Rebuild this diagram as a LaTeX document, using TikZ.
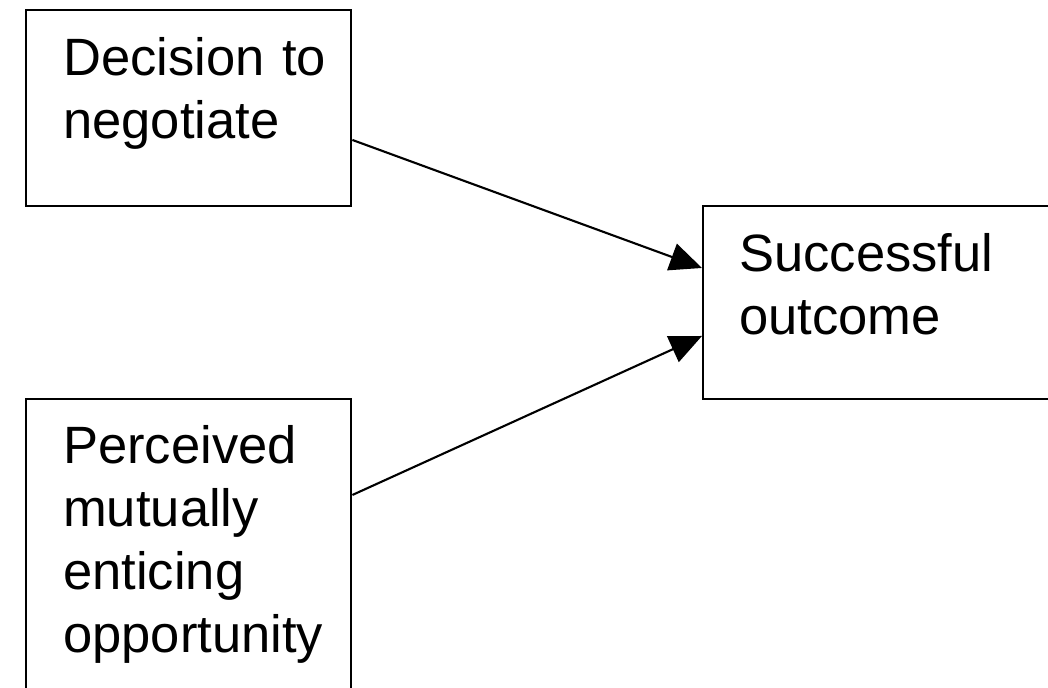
\documentclass[tikz,border=0pt]{standalone}
\usepackage{fontspec}
\setmainfont{Liberation Sans}
\usetikzlibrary{arrows.meta}

\tikzset{
  stage/.style={draw, line width=1.4pt, anchor=north west, inner xsep=0.74cm, inner ysep=0pt,
    align=left, text height=1.3cm, font=\fontsize{29.9}{35.9}\selectfont},
  link/.style={line width=1.2pt, -{Triangle[length=0.64cm,width=0.56cm]}}
}

\begin{document}
\begin{tikzpicture}[x=0.02cm, y=-0.02cm]
  \useasboundingbox (0,0) rectangle (1048,688);
  \clip (0,0) rectangle (1048,688);
  \node[stage, text width=5.02cm, text depth=2.62cm] (decide) at (25,9) {Decision~to\\negotiate};
  \node[stage, text width=5.02cm, text height=1.28cm, text depth=4.86cm] (perceive) at (25,398)
    {Perceived\\mutually\\enticing\\opportunity};
  \node[stage, inner xsep=0.72cm, text width=5.56cm, text depth=2.56cm] (outcome) at (702,205)
    {Successful\\outcome};
  \draw[link] ([yshift=-2.62cm]decide.north east) -- ([yshift=-1.26cm]outcome.north west);
  \draw[link] ([yshift=-1.94cm]perceive.north east) -- ([yshift=-2.62cm]outcome.north west);
\end{tikzpicture}
\end{document}
